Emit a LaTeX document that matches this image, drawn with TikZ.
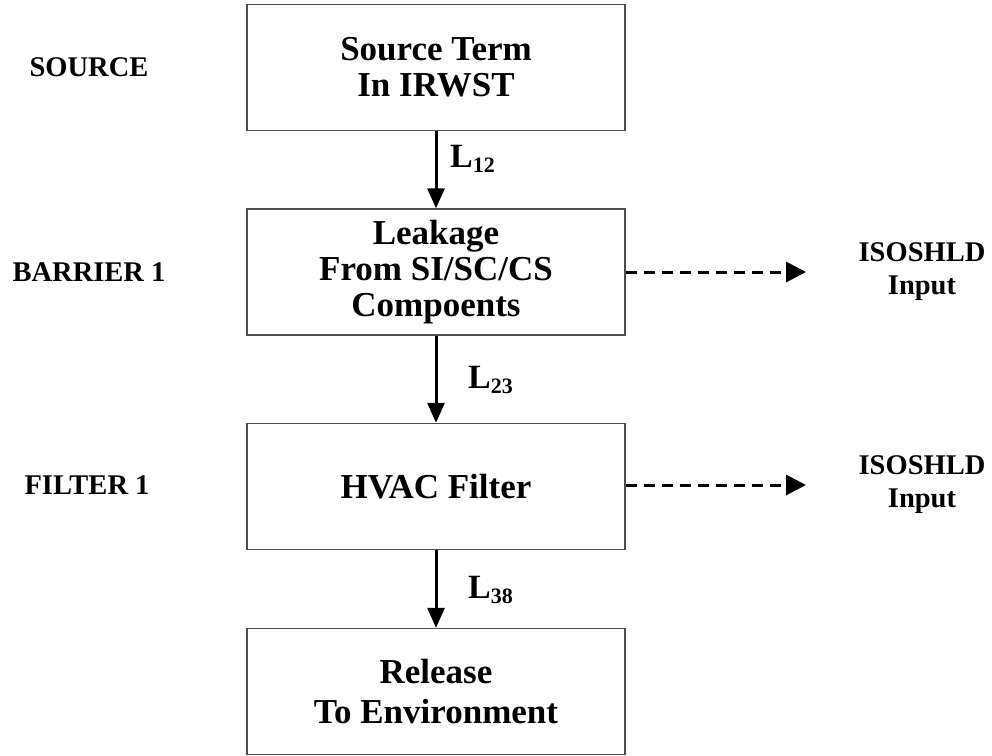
\documentclass[tikz,border=0pt]{standalone}
\usepackage{fontspec}
\setmainfont{Liberation Serif}
\usetikzlibrary{arrows.meta}
\begin{document}
\begin{tikzpicture}[x=1pt,y=-1pt,
  box/.style={draw=black!70, line width=1.4pt, minimum width=378pt, minimum height=126pt,
    inner sep=0pt, align=center, font=\fontsize{35}{36}\selectfont\bfseries},
  side/.style={font=\fontsize{28.5}{33}\selectfont\bfseries, align=center, inner sep=0pt},
  flow/.style={line width=3pt, -{Triangle[length=20pt,width=17pt]}},
  dflow/.style={line width=3pt, dash pattern=on 11pt off 7pt, -{Triangle[length=20pt,width=20pt]}},
  lab/.style={anchor=base west, inner sep=0pt}]
\useasboundingbox (0,0) rectangle (992,755);
% boxes
\node[box] (b1) at (436,67.5) {Source Term\\In IRWST};
\node[box] (b2) at (436,272) {Leakage\\From SI/SC/CS\\Compoents};
\node[box] (b3) at (436,486.5) {HVAC Filter};
\node[box, font=\fontsize{35}{40}\selectfont\bfseries] (b4) at (436,691.5) {Release\\To Environment};
% side labels
\node[side] (s1) at (89,67.5) {SOURCE};
\node[side] (s2) at (89,272) {BARRIER 1};
\node[side] (s3) at (87,485) {FILTER 1};
% outputs
\node[side] (o1) at (922,272) {ISOSHLD\\Input};
\node[side] (o2) at (922,485) {ISOSHLD\\Input};
\coordinate (t1) at (806,272);
\coordinate (t2) at (806,485);
% connectors
\draw[flow] (b1) -- (b2);
\draw[flow] (b2) -- (b3);
\draw[flow] (b3) -- (b4);
\draw[dflow] (b2.east |- t1) -- (t1);
\draw[dflow] (b3.east |- t2) -- (t2);
% flow labels
\node[lab] (l1) at (450,167) {\fontsize{34}{34}\selectfont\bfseries L\raisebox{-5pt}{\fontsize{22}{22}\selectfont 12}};
\node[lab] (l2) at (468,388) {\fontsize{34}{34}\selectfont\bfseries L\raisebox{-5pt}{\fontsize{22}{22}\selectfont 23}};
\node[lab] (l3) at (468,598) {\fontsize{34}{34}\selectfont\bfseries L\raisebox{-5pt}{\fontsize{22}{22}\selectfont 38}};
\end{tikzpicture}
\end{document}
